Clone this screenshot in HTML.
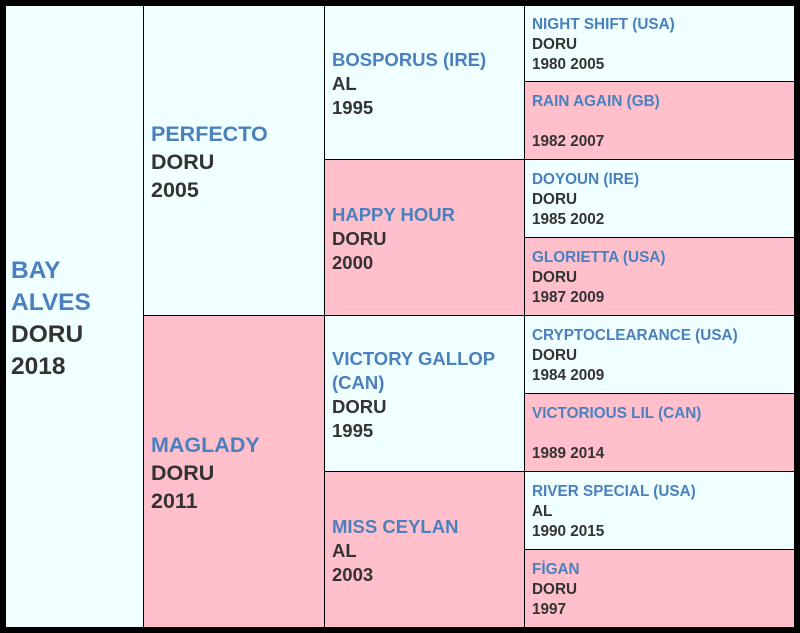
<!DOCTYPE html>
<html><head><meta charset="utf-8"><style>
body{margin:0;width:800px;height:633px;background:#000;position:relative;overflow:hidden;font-family:"Liberation Sans",sans-serif;font-weight:bold}
.c{position:absolute;display:flex;flex-direction:column;justify-content:center;box-sizing:border-box;padding-left:7px;color:#333}
.a{background:#f0ffff}.p{background:#ffc0cb}
.n{color:#4a80bd}
.g1{font-size:24.5px;line-height:32px;padding-left:5px;padding-top:4px}
.g2{font-size:21.5px;line-height:28px;padding-top:2px}
.g3{font-size:18.5px;line-height:24px;padding-top:3px}
.g4{font-size:15.3px;line-height:20px;padding-top:3px}
.e{height:20px}
</style></head><body>
<div class="c a g1" style="left:6px;top:6px;width:137px;height:621px"><div class="n">BAY<br>ALVES</div><div>DORU</div><div>2018</div></div>
<div class="c a g2" style="left:144px;top:6px;width:180px;height:309px"><div class="n">PERFECTO</div><div>DORU</div><div>2005</div></div>
<div class="c p g2" style="left:144px;top:316px;width:180px;height:311px"><div class="n">MAGLADY</div><div>DORU</div><div>2011</div></div>
<div class="c a g3" style="left:325px;top:6px;width:199px;height:153px"><div class="n">BOSPORUS (IRE)</div><div>AL</div><div>1995</div></div>
<div class="c p g3" style="left:325px;top:160px;width:199px;height:155px"><div class="n">HAPPY HOUR</div><div>DORU</div><div>2000</div></div>
<div class="c a g3" style="left:325px;top:316px;width:199px;height:155px"><div class="n">VICTORY GALLOP<br>(CAN)</div><div>DORU</div><div>1995</div></div>
<div class="c p g3" style="left:325px;top:472px;width:199px;height:155px"><div class="n">MISS CEYLAN</div><div>AL</div><div>2003</div></div>
<div class="c a g4" style="left:525px;top:6px;width:269px;height:75px"><div class="n">NIGHT SHIFT (USA)</div><div>DORU</div><div>1980 2005</div></div>
<div class="c p g4" style="left:525px;top:82px;width:269px;height:77px"><div class="n">RAIN AGAIN (GB)</div><div class="e"></div><div>1982 2007</div></div>
<div class="c a g4" style="left:525px;top:160px;width:269px;height:77px"><div class="n">DOYOUN (IRE)</div><div>DORU</div><div>1985 2002</div></div>
<div class="c p g4" style="left:525px;top:238px;width:269px;height:77px"><div class="n">GLORIETTA (USA)</div><div>DORU</div><div>1987 2009</div></div>
<div class="c a g4" style="left:525px;top:316px;width:269px;height:77px"><div class="n">CRYPTOCLEARANCE (USA)</div><div>DORU</div><div>1984 2009</div></div>
<div class="c p g4" style="left:525px;top:394px;width:269px;height:77px"><div class="n">VICTORIOUS LIL (CAN)</div><div class="e"></div><div>1989 2014</div></div>
<div class="c a g4" style="left:525px;top:472px;width:269px;height:77px"><div class="n">RIVER SPECIAL (USA)</div><div>AL</div><div>1990 2015</div></div>
<div class="c p g4" style="left:525px;top:550px;width:269px;height:77px"><div class="n">FİGAN</div><div>DORU</div><div>1997</div></div>
</body></html>
